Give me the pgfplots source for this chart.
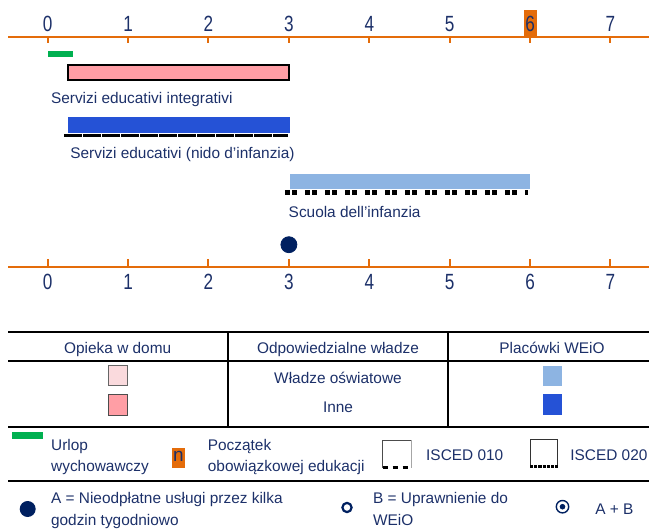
\documentclass[border=0pt]{standalone}
\usepackage{pgfplots}
\pgfplotsset{compat=1.18}
\usepackage{fontspec}
\setmainfont{Liberation Sans}
\newfontfamily\narrowfont[FakeStretch=0.78]{Liberation Sans}
\definecolor{navy}{RGB}{28,48,105}
\definecolor{dotnavy}{RGB}{0,32,96}
\definecolor{orangec}{RGB}{228,108,10}
\definecolor{greenc}{RGB}{0,176,80}
\definecolor{pinkc}{RGB}{255,158,165}
\definecolor{lpinkc}{RGB}{250,218,221}
\definecolor{bluec}{RGB}{37,82,214}
\definecolor{lbluec}{RGB}{141,180,226}
\newcommand{\lab}{\fontsize{7.7}{9}\selectfont\color{navy}}
\newcommand{\tks}{\narrowfont\fontsize{11}{12}\selectfont\color{navy}}
\begin{document}
\begin{tikzpicture}
\begin{axis}[name=ax, at={(0,0)}, anchor=north west, scale only axis,
  width=324.5pt, height=265pt, xmin=-0.5933, xmax=7.4789, ymin=0, ymax=530,
  y dir=reverse, hide axis, clip=false]
% highlight of compulsory start
\fill[orangec] (axis cs:5.924,10) rectangle (axis cs:6.082,36.7);
% axes lines
\draw[orangec, line width=1pt] (axis cs:-0.49,36.7) -- (axis cs:7.4789,36.7);
\draw[orangec, line width=1pt] (axis cs:-0.49,266.7) -- (axis cs:7.4789,266.7);
\pgfplotsinvokeforeach{0,...,7}{
  \draw[orangec, line width=1pt] (axis cs:#1,36.7) -- (axis cs:#1,43);
  \draw[orangec, line width=1pt] (axis cs:#1,259.3) -- (axis cs:#1,266.7);
  \node[anchor=base, inner sep=0, font=\tks] at (axis cs:#1,31.7) {#1};
  \node[anchor=base, inner sep=0, font=\tks] at (axis cs:#1,289) {#1};
}
% parental leave
\addplot[draw=none, fill=greenc] coordinates {(0,50.7) (0.31,50.7) (0.31,57.3) (0,57.3)} -- cycle;
% Servizi educativi integrativi
\addplot[draw=black, line width=1pt, fill=pinkc] coordinates {(0.25,64.8) (3,64.8) (3,79.5) (0.25,79.5)} -- cycle;
% nido
\addplot[draw=none, fill=bluec] coordinates {(0.25,116.7) (3.01,116.7) (3.01,132.7) (0.25,132.7)} -- cycle;
\addplot[black, line width=1.5pt, dash pattern=on 9pt off 0.5pt] coordinates {(0.206,135) (2.99,135)};
% scuola dell'infanzia
\addplot[draw=none, fill=lbluec] coordinates {(3.01,174) (6,174) (6,189.3) (3.01,189.3)} -- cycle;
\addplot[black, line width=2.3pt, dash pattern=on 2.5pt off 1pt on 2.5pt off 4pt] coordinates {(2.95,192.5) (5.97,192.5)};
% free hours
\addplot[only marks, mark=*, mark size=4pt, color=dotnavy] coordinates {(3,244.7)};
% labels
\node[anchor=base west, inner sep=0, font=\lab] at (axis cs:0.037,103.3) {Servizi educativi integrativi};
\node[anchor=base west, inner sep=0, font=\lab] at (axis cs:0.277,158.5) {Servizi educativi (nido d’infanzia)};
\node[anchor=base west, inner sep=0, font=\lab] at (axis cs:2.993,217.3) {Scuola dell’infanzia};
\end{axis}
\begin{scope}[x=0.5pt, y=-0.5pt]
% table lines
\draw[line width=1pt] (8.3,331.7) -- (649,331.7);
\draw[line width=1pt] (8.3,361) -- (649,361);
\draw[line width=1pt] (8.3,427) -- (649,427);
\draw[line width=1pt] (8.3,481) -- (649,481);
\draw[line width=1pt] (228.3,331.7) -- (228.3,427);
\draw[line width=1pt] (448.3,331.7) -- (448.3,427);
% header
\node[anchor=base, inner sep=0, font=\lab] at (117.7,353.5) {Opieka w domu};
\node[anchor=base, inner sep=0, font=\lab] at (338,353.5) {Odpowiedzialne władze};
\node[anchor=base, inner sep=0, font=\lab] at (552,353.5) {Placówki WEiO};
\node[anchor=base, inner sep=0, font=\lab] at (338,383.5) {Władze oświatowe};
\node[anchor=base, inner sep=0, font=\lab] at (338,412) {Inne};
\filldraw[fill=lpinkc, draw=black!60, line width=0.5pt] (108.3,365.7) rectangle (127.5,385.7);
\filldraw[fill=pinkc, draw=black!70, line width=0.5pt] (108.3,394.3) rectangle (127.5,415);
\fill[lbluec] (542.5,365.7) rectangle (561.7,385.7);
\fill[bluec] (542.5,394.3) rectangle (561.7,415);
% legend row 1
\fill[greenc] (11.7,432.3) rectangle (42.9,439);
\node[anchor=base west, inner sep=0, font=\lab] at (50.8,450.5) {Urlop};
\node[anchor=base west, inner sep=0, font=\lab] at (50.8,471) {wychowawczy};
\fill[orangec] (172,448) rectangle (184.6,468);
\node[inner sep=0, font=\fontsize{9.5}{10}\selectfont\color{navy}] at (178.3,456.5) {n};
\node[anchor=base west, inner sep=0, font=\lab] at (207.5,450.5) {Początek};
\node[anchor=base west, inner sep=0, font=\lab] at (207.5,471) {obowiązkowej edukacji};
% ISCED 010 box
\draw[black!70, line width=0.5pt] (382.5,468) -- (382.5,440) -- (411.7,440);
\draw[black!35, line width=0.5pt] (411.7,440) -- (411.7,468);
\draw[black, line width=1.5pt, dash pattern=on 2.5pt off 2.5pt] (382.5,467.5) -- (411.7,467.5);
\node[anchor=base west, inner sep=0, font=\lab] at (425.8,460) {ISCED 010};
% ISCED 020 box
\draw[black!80, line width=0.5pt] (530,466.7) -- (530,439) -- (557.5,439) -- (557.5,466.7);
\draw[black, line width=1.5pt, dash pattern=on 1.6pt off 0.5pt] (530,466) -- (557.5,466);
\node[anchor=base west, inner sep=0, font=\lab] at (570,460) {ISCED 020};
% legend row 2
\fill[dotnavy] (27.7,509) circle (8);
\node[anchor=base west, inner sep=0, font=\lab] at (50.7,503.5) {A = Nieodpłatne usługi przez kilka};
\node[anchor=base west, inner sep=0, font=\lab] at (50.7,525.5) {godzin tygodniowo};
\draw[dotnavy, line width=1.1pt] (347,507.5) circle (4.6);
\node[anchor=base west, inner sep=0, font=\lab] at (372.7,503.5) {B = Uprawnienie do};
\node[anchor=base west, inner sep=0, font=\lab] at (372.7,525.5) {WEiO};
\draw[dotnavy, line width=0.7pt] (562.5,506.7) circle (6.2);
\fill[dotnavy] (562.5,506.7) circle (2.8);
\node[anchor=base west, inner sep=0, font=\lab] at (595,514.5) {A + B};
\end{scope}
\pgfresetboundingbox
\path (0,0) rectangle (324.5pt,-265pt);
\end{tikzpicture}
\end{document}
